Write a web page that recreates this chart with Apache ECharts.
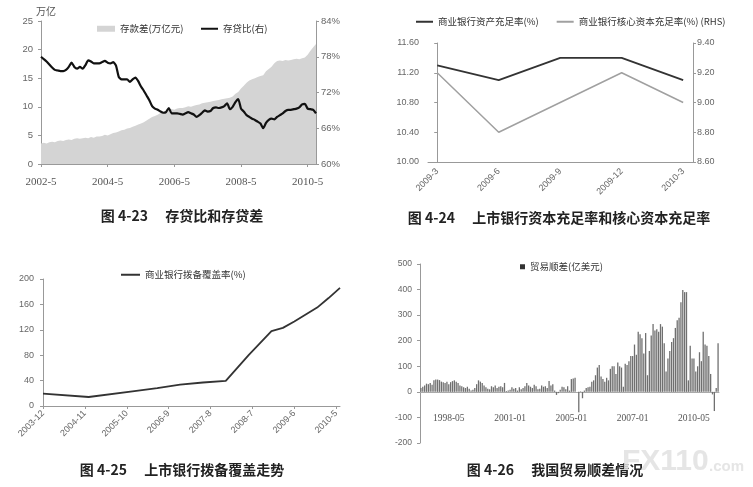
<!DOCTYPE html>
<html>
<head>
<meta charset="utf-8">
<script src="https://cdn.jsdelivr.net/npm/echarts@6/dist/echarts.min.js"></script>
<style>
html,body{margin:0;padding:0;background:#fff;}
#main{width:753px;height:487px;}
</style>
</head>
<body>
<div id="main"></div>
<script>
// 图4-23 存贷差(万亿元) 和 存贷比(%)，月度，从2002-5开始
let gapValues = [
    3.6,3.7,3.6,3.8,3.9,3.8,4.0,4.1,4.0,4.2,
    4.3,4.2,4.4,4.5,4.4,4.5,4.6,4.5,4.7,4.6,
    4.8,4.8,4.9,5.1,5.0,5.2,5.4,5.5,5.7,5.9,
    6.0,6.2,6.3,6.5,6.7,6.9,7.1,7.3,7.6,7.9,
    8.2,8.4,8.6,8.9,9.1,9.3,9.5,9.6,9.5,9.7,
    9.8,9.8,9.9,10.1,10.0,10.2,10.3,10.4,10.6,10.7,
    10.8,10.9,11.0,11.1,11.2,11.3,11.4,11.5,11.6,11.8,
    12.3,12.6,13.2,13.7,14.2,14.6,14.8,15.0,15.2,15.4,
    15.5,16.2,16.6,17.0,17.6,18.0,18.1,18.0,18.2,18.1,
    18.2,18.3,18.4,18.3,18.5,18.6,19.1,19.8,20.4,21.0
];
let ratioValues = [
    78.0,77.6,77.2,76.7,76.2,75.8,75.7,75.6,75.6,75.8,
    76.3,77.0,76.3,76.0,76.3,76.0,76.6,77.4,77.2,76.9,
    76.9,76.9,77.1,77.3,77.0,76.9,77.1,76.5,74.6,74.2,
    74.2,74.2,73.8,74.2,74.5,73.9,73.0,72.3,71.5,70.7,
    69.7,69.3,69.1,68.8,68.6,68.7,69.4,68.5,68.5,68.5,
    68.4,68.3,68.5,68.7,68.5,68.3,67.9,68.2,68.6,69.0,
    68.8,68.9,69.4,69.5,69.4,69.5,69.7,70.2,69.2,69.6,
    70.4,70.9,69.3,68.8,68.2,67.9,67.6,67.4,67.1,66.8,
    66.0,66.9,67.4,67.6,67.5,67.9,68.2,68.5,68.9,69.1,
    69.1,69.2,69.3,69.5,70.0,70.1,69.3,69.2,69.1,68.5
];

// 图4-24 上市银行资本充足率 / 核心资本充足率
let capQuarters = ['2009-3', '2009-6', '2009-9', '2009-12', '2010-3'];
let capAdequacy = [11.3, 11.1, 11.4, 11.4, 11.1];
let coreCapAdequacy = [9.2, 8.8, 9.0, 9.2, 9.0];

// 图4-25 拨备覆盖率
let provDates = ['2003-12','2004-12','2005-12','2006-6','2006-12','2007-6','2007-12','2008-6',
    '2008-12','2009-3','2009-6','2009-9','2009-12','2010-3','2010-6'];
let provValues = [19.5, 14.2, 23.5, 28, 33.5, 37, 39.5, 80, 118, 123, 133, 144, 155, 170, 186];

// 图4-26 贸易顺差(亿美元)，月度，从1997-01开始
let tradeValues = [
    15,20,25,32,30,35,28,45,48,48,
    46,40,38,35,40,30,38,42,45,40,
    35,25,22,18,15,20,12,5,8,15,
    30,45,40,35,25,18,12,10,22,18,
    25,15,20,22,18,35,3,5,8,18,
    12,15,5,18,10,15,22,35,25,20,
    15,28,22,10,12,25,20,22,15,42,
    25,30,5,-12,-5,8,20,18,10,22,
    5,50,52,55,0,-80,2,-25,5,15,
    18,20,40,45,65,95,105,60,50,40,
    55,45,90,100,100,70,115,100,95,20,
    110,105,120,140,140,185,145,235,225,210,
    150,230,65,160,220,265,240,245,235,265,
    255,190,80,130,160,195,210,250,280,290,
    350,398,390,390,45,180,130,130,80,100,
    155,120,235,185,180,140,70,-10,-75,15,
    190
];
let tradeTickLabels = ['1998-05', '2001-01', '2005-01', '2007-01', '2010-05'];

// 月份序列(只用作类目)
function monthList(y, m, n, pad) {
    let arr = [];
    for (let i = 0; i < n; i++) {
        let mm = (m - 1 + i) % 12 + 1;
        let yy = y + Math.floor((m - 1 + i) / 12);
        arr.push(yy + '-' + (pad && mm < 10 ? '0' + mm : mm));
    }
    return arr;
}
let gapMonths = monthList(2002, 5, gapValues.length, false);
let provMonths = monthList(2003, 12, 79, false);
let tradeMonths = monthList(1997, 1, tradeValues.length, true);

let axisGrey = '#999';
let labelGrey = '#666';
let cjk = 'Noto Sans CJK SC';

function valAxis(extra) {
    return Object.assign({
        type: 'value',
        axisLine: { show: true, lineStyle: { color: axisGrey } },
        axisTick: { show: true, length: 3, lineStyle: { color: axisGrey } },
        splitLine: { show: false },
        axisLabel: { color: labelGrey, fontSize: 9, fontFamily: 'Liberation Sans', margin: 8 }
    }, extra);
}

let legendText = { color: '#333', fontSize: 9.5, fontFamily: cjk };
let tradeTickShow = (i) => i >= 15 && (i - 15) % 33 === 0;

let chart = echarts.init(document.getElementById('main'));
chart.setOption({
    animation: false,
    backgroundColor: '#fff',
    grid: [
        { left: 41, top: 21, width: 275, height: 143 },
        { left: 428, top: 43, width: 265, height: 119 },
        { left: 43, top: 279, width: 297, height: 127 },
        { left: 420, top: 264, width: 299, height: 179 }
    ],
    legend: [
        {
            left: 92, top: 19, itemWidth: 18, itemHeight: 6,
            textStyle: legendText,
            data: [{ name: '存款差(万亿元)', icon: 'rect', itemStyle: { color: '#d4d4d4' } }]
        },
        {
            left: 196, top: 19, itemWidth: 17, itemHeight: 2,
            textStyle: legendText,
            data: [{ name: '存贷比(右)', icon: 'rect' }]
        },
        {
            left: 411, top: 12, itemWidth: 17, itemHeight: 2, itemGap: 18,
            textStyle: legendText,
            data: [{ name: '商业银行资产充足率(%)', icon: 'rect' }, { name: '商业银行核心资本充足率(%) (RHS)', icon: 'rect' }]
        },
        {
            left: 116, top: 265, itemWidth: 19, itemHeight: 2,
            textStyle: legendText,
            data: [{ name: '商业银行拨备覆盖率(%)', icon: 'rect' }]
        },
        {
            left: 515, top: 257, itemWidth: 5, itemHeight: 5,
            textStyle: legendText,
            data: [{ name: '贸易顺差(亿美元)', icon: 'rect', itemStyle: { color: '#333' } }]
        }
    ],
    xAxis: [
        {
            gridIndex: 0, type: 'category', data: gapMonths, boundaryGap: false,
            axisLine: { lineStyle: { color: axisGrey } },
            axisTick: { interval: 23, length: 3, lineStyle: { color: axisGrey } },
            axisLabel: { interval: 23, color: '#555', fontSize: 11, fontFamily: 'Liberation Serif', margin: 13 }
        },
        {
            gridIndex: 1, type: 'value', min: -0.15, max: 4.16,
            axisLine: { show: true, lineStyle: { color: axisGrey } },
            axisTick: { show: false },
            splitLine: { show: false },
            axisLabel: {
                customValues: [0, 1, 2, 3, 4],
                formatter: (v) => capQuarters[Math.round(v)],
                rotate: 45, color: labelGrey, fontSize: 9, fontFamily: 'Liberation Sans', margin: 8
            }
        },
        {
            gridIndex: 2, type: 'category', data: provMonths, boundaryGap: false,
            axisLine: { lineStyle: { color: axisGrey } },
            axisTick: { interval: 10, length: 3, lineStyle: { color: axisGrey } },
            axisLabel: { interval: 10, rotate: 45, color: labelGrey, fontSize: 9, fontFamily: 'Liberation Sans', margin: 6 }
        },
        {
            // 横轴画在0处：用offset把轴线从网格底部上移到0值
            gridIndex: 3, type: 'category', data: tradeMonths, boundaryGap: true,
            position: 'bottom', offset: -51,
            axisLine: { onZero: false, lineStyle: { color: '#aaa' } },
            axisTick: { interval: tradeTickShow, length: 3, lineStyle: { color: '#aaa' } },
            axisLabel: {
                interval: tradeTickShow,
                formatter: (v, i) => tradeTickLabels[(i - 15) / 33] || '',
                color: '#555', fontSize: 9.5, fontFamily: 'Liberation Serif', margin: 21
            }
        }
    ],
    yAxis: [
        valAxis({
            gridIndex: 0, min: 0, max: 25, interval: 5,
            name: '万亿', nameGap: 2,
            nameTextStyle: { color: '#555', fontSize: 10, fontFamily: cjk, align: 'left', padding: [0, 0, 0, -5] },
            axisLabel: { color: labelGrey, fontSize: 9.5, fontFamily: 'Liberation Sans', margin: 8 }
        }),
        valAxis({
            gridIndex: 0, position: 'right', min: 60, max: 84, interval: 6,
            axisLabel: { color: labelGrey, fontSize: 9.5, fontFamily: 'Liberation Sans', margin: 5, formatter: '{value}%' }
        }),
        valAxis({
            gridIndex: 1, min: 10, max: 11.6, interval: 0.4,
            axisLabel: { color: labelGrey, fontSize: 9, fontFamily: 'Liberation Sans', margin: 9, formatter: (v) => v.toFixed(2) }
        }),
        valAxis({
            gridIndex: 1, position: 'right', min: 8.6, max: 9.4, interval: 0.2,
            axisLabel: { color: labelGrey, fontSize: 9, fontFamily: 'Liberation Sans', margin: 4, formatter: (v) => v.toFixed(2) }
        }),
        valAxis({ gridIndex: 2, min: 0, max: 200, interval: 40, axisLabel: { color: labelGrey, fontSize: 9, fontFamily: 'Liberation Sans', margin: 9 } }),
        valAxis({ gridIndex: 3, min: -200, max: 500, interval: 100, axisLabel: { color: labelGrey, fontSize: 8.5, fontFamily: 'Liberation Sans', margin: 8 } })
    ],
    series: [
        {
            name: '存款差(万亿元)', type: 'line', xAxisIndex: 0, yAxisIndex: 0,
            data: gapValues, symbol: 'none',
            lineStyle: { width: 0 }, itemStyle: { color: '#d4d4d4' },
            areaStyle: { color: '#d4d4d4', opacity: 1 }
        },
        {
            name: '存贷比(右)', type: 'line', xAxisIndex: 0, yAxisIndex: 1,
            data: ratioValues, symbol: 'none', smooth: 0.2,
            lineStyle: { width: 2.2, color: '#111' }, itemStyle: { color: '#111' }
        },
        {
            name: '商业银行资产充足率(%)', type: 'line', xAxisIndex: 1, yAxisIndex: 2,
            data: capAdequacy.map((v, i) => [i, v]), symbol: 'none',
            lineStyle: { width: 1.8, color: '#333' }, itemStyle: { color: '#333' }
        },
        {
            name: '商业银行核心资本充足率(%) (RHS)', type: 'line', xAxisIndex: 1, yAxisIndex: 3,
            data: coreCapAdequacy.map((v, i) => [i, v]), symbol: 'none',
            lineStyle: { width: 1.5, color: '#a0a0a0' }, itemStyle: { color: '#a0a0a0' }
        },
        {
            name: '商业银行拨备覆盖率(%)', type: 'line', xAxisIndex: 2, yAxisIndex: 4,
            data: provDates.map((d, i) => [d, provValues[i]]), symbol: 'none',
            lineStyle: { width: 1.8, color: '#333' }, itemStyle: { color: '#333' }
        },
        {
            name: '贸易顺差(亿美元)', type: 'bar', xAxisIndex: 3, yAxisIndex: 5,
            data: tradeValues, barCategoryGap: '30%',
            itemStyle: { color: '#707070' }
        }
    ],
    graphic: [
        { type: 'text', x: 182, y: 216, style: { text: '图 4-23\u3000 存贷比和存贷差', textAlign: 'center', textVerticalAlign: 'middle', font: 'bold 14px "Noto Sans CJK SC"', fill: '#222' } },
        { type: 'text', x: 559, y: 218, style: { text: '图 4-24\u3000 上市银行资本充足率和核心资本充足率', textAlign: 'center', textVerticalAlign: 'middle', font: 'bold 14px "Noto Sans CJK SC"', fill: '#222' } },
        { type: 'text', x: 182, y: 470, style: { text: '图 4-25\u3000 上市银行拨备覆盖走势', textAlign: 'center', textVerticalAlign: 'middle', font: 'bold 14px "Noto Sans CJK SC"', fill: '#222' } },
        { type: 'text', x: 555, y: 470, style: { text: '图 4-26\u3000 我国贸易顺差情况', textAlign: 'center', textVerticalAlign: 'middle', font: 'bold 14px "Noto Sans CJK SC"', fill: '#222' } },
        { type: 'text', x: 622, y: 462, z: 10, style: { text: 'FX110', textVerticalAlign: 'middle', font: 'bold 30px "Liberation Sans"', fill: 'rgba(225,225,225,0.85)' } },
        { type: 'text', x: 709, y: 467, z: 10, style: { text: '.com', textVerticalAlign: 'middle', font: 'bold 15px "Liberation Sans"', fill: 'rgba(225,225,225,0.85)' } }
    ]
});
</script>
</body>
</html>
